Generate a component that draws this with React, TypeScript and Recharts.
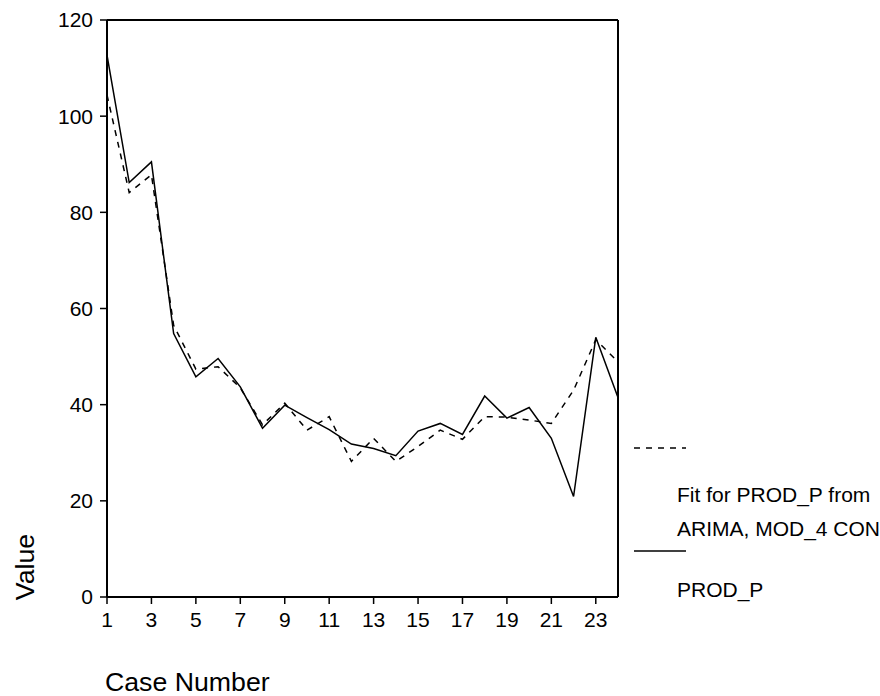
import React from 'react';
import { LineChart, Line, XAxis, YAxis, ReferenceLine } from 'recharts';

const cases = [1, 2, 3, 4, 5, 6, 7, 8, 9, 10, 11, 12, 13, 14, 15, 16, 17, 18, 19, 20, 21, 22, 23, 24];
const prodP = [112.7, 86.2, 90.5, 54.8, 45.8, 49.6, 43.7, 35.1, 39.9, 37.3, 34.8, 31.8, 30.9, 29.4, 34.5, 36.1, 33.8, 41.8, 37.2, 39.4, 33.0, 20.9, 54.0, 41.5];
const fitProdP = [104.4, 84.1, 87.8, 56.5, 47.4, 47.9, 43.5, 35.8, 40.3, 34.7, 37.5, 28.2, 33.0, 28.2, 31.3, 34.7, 32.8, 37.5, 37.4, 36.8, 36.1, 43.0, 53.5, 48.9];
const xTicks = [1, 3, 5, 7, 9, 11, 13, 15, 17, 19, 21, 23];
const yTicks = [0, 20, 40, 60, 80, 100, 120];

const data = cases.map((c, i) => ({ case: c, prod: prodP[i], fit: fitProdP[i] }));

const FONT = '"Liberation Sans", Arial, sans-serif';

const legendText: React.CSSProperties = { position: 'absolute', left: 43, whiteSpace: 'nowrap', lineHeight: '21px' };

// legend drawn beside the plot, like the SPSS output
const ChartLegend = () => (
  <div style={{ fontFamily: FONT, fontSize: 21, color: '#000', position: 'absolute', left: 634, top: 446, width: 246, height: 180 }}>
    <svg width={60} height={4} style={{ position: 'absolute', left: 0, top: 0 }}>
      <line x1={0} y1={2} x2={52} y2={2} stroke="#000" strokeWidth={1.5} strokeDasharray="6 6" />
    </svg>
    <div style={{ ...legendText, top: 38 }}>Fit for PROD_P from</div>
    <div style={{ ...legendText, top: 72 }}>ARIMA, MOD_4 CON</div>
    <svg width={60} height={4} style={{ position: 'absolute', left: 0, top: 103 }}>
      <line x1={0} y1={2} x2={52} y2={2} stroke="#000" strokeWidth={1.5} />
    </svg>
    <div style={{ ...legendText, top: 133 }}>PROD_P</div>
  </div>
);

export default function App() {
  return (
    <div style={{ position: 'absolute', left: 0, top: 0, width: 880, height: 696, background: '#fff', overflow: 'hidden' }}>
      <LineChart width={880} height={696} data={data} margin={{ top: 20, right: 262, left: 0, bottom: 0 }}>
        <XAxis
          dataKey="case"
          type="number"
          domain={[1, 24]}
          ticks={xTicks}
          interval={0}
          height={99}
          axisLine={{ stroke: '#000', strokeWidth: 2 }}
          tickLine={{ stroke: '#000', strokeWidth: 1.5 }}
          tickSize={7}
          tickMargin={8}
          tick={{ fill: '#000', fontSize: 21, fontFamily: FONT }}
          label={{ value: 'Case Number', position: 'insideBottomLeft', offset: 5, dx: -7, fontSize: 26.7, fill: '#000', style: { fill: '#000', fontSize: 26.7, fontFamily: FONT } }}
        />
        <YAxis
          type="number"
          domain={[0, 120]}
          ticks={yTicks}
          interval={0}
          width={107}
          axisLine={{ stroke: '#000', strokeWidth: 2 }}
          tickLine={{ stroke: '#000', strokeWidth: 1.5 }}
          tickSize={7}
          tickMargin={7}
          tick={{ fill: '#000', fontSize: 21, fontFamily: FONT }}
          label={{ value: 'Value', angle: -90, position: 'insideBottomLeft', offset: 0, dx: 34, dy: -30, fontSize: 26.7, fill: '#000', style: { fill: '#000', fontSize: 26.7, fontFamily: FONT, textAnchor: 'middle' } }}
        />
        <ReferenceLine y={120} stroke="#000" strokeWidth={2} ifOverflow="extendDomain" />
        <ReferenceLine x={24} stroke="#000" strokeWidth={2} ifOverflow="extendDomain" />
        <Line dataKey="fit" type="linear" stroke="#000" strokeWidth={1.5} strokeDasharray="6 6" dot={false} isAnimationActive={false} />
        <Line dataKey="prod" type="linear" stroke="#000" strokeWidth={1.5} dot={false} isAnimationActive={false} />
      </LineChart>
      <ChartLegend />
    </div>
  );
}
